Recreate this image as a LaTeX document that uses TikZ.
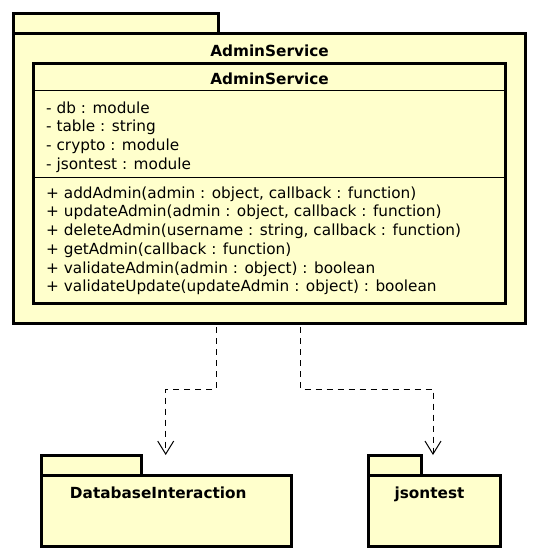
\documentclass[tikz,border=0pt]{standalone}
\usepackage{fontspec}
\setmainfont{DejaVu Sans}
\usetikzlibrary{arrows.meta}
\definecolor{pkgfill}{RGB}{255,255,204}
\begin{document}
\begin{tikzpicture}[x=1pt,y=-1pt,
  every node/.style={font=\fontsize{15.3}{18.75}\selectfont},
  box/.style={draw=black, line width=3pt, fill=pkgfill, rectangle, inner sep=0pt, outer sep=0pt, anchor=north west},
  titletext/.style={inner sep=0pt, anchor=base, font=\fontsize{15.3}{18.75}\selectfont\bfseries},
  linetext/.style={inner sep=0pt, anchor=base west},
  sepline/.style={draw=black, line width=0.9pt},
  dep/.style={draw=black, line width=1pt, dash pattern=on 6pt off 5pt, -{Straight Barb[length=13pt,width=16pt,line width=1pt]}}
]
\useasboundingbox (0,0) rectangle (540,558);

% AdminService package
\node[box, minimum width=205pt, minimum height=19.5pt] (admintab) at (13.5,13.5) {};
\node[box, minimum width=512pt, minimum height=290pt] (adminbody) at (13.5,33) {};
\node[titletext] (admintitle) at (269.5,56.5) {AdminService};

% AdminService class
\node[box, minimum width=472pt, minimum height=240.5pt] (cls) at (33.5,63) {};
\node[titletext] (clstitle) at (269.5,84.5) {AdminService};
\draw[sepline] (cls.west |- 0,90.7) -- (cls.east |- 0,90.7);
\draw[sepline] (cls.west |- 0,177.5) -- (cls.east |- 0,177.5);

\foreach \t [count=\i] in {{- db : module},{- table : string},{- crypto : module},{- jsontest : module}}
  \node[linetext] (a\i) at (46,113+18.75*\i-18.75) {\t};

\foreach \t [count=\i] in {{+ addAdmin(admin : object, callback : function)},
  {+ updateAdmin(admin : object, callback : function)},
  {+ deleteAdmin(username : string, callback : function)},
  {+ getAdmin(callback : function)},
  {+ validateAdmin(admin : object) : boolean},
  {+ validateUpdate(updateAdmin : object) : boolean}}
  \node[linetext] (m\i) at (46,198+18.75*\i-18.75) {\t};

% DatabaseInteraction package
\node[box, minimum width=100pt, minimum height=20pt] (dbtab) at (41,455) {};
\node[box, minimum width=250pt, minimum height=71pt] (dbbody) at (41,475) {};
\node[titletext] (dbtitle) at (158.3,498) {DatabaseInteraction};

% jsontest package
\node[box, minimum width=53pt, minimum height=20pt] (jstab) at (368,455) {};
\node[box, minimum width=132pt, minimum height=71pt] (jsbody) at (368,475) {};
\node[titletext] (jstitle) at (429.5,498) {jsontest};

% dependencies
\coordinate (k1) at (216,389);
\coordinate (k2) at (165.7,389);
\coordinate (k3) at (300.5,389);
\coordinate (k4) at (433,389);
\draw[dep, shorten <=4pt] (k1 |- adminbody.south) -- (k1) -- (k2) -- (k2 |- dbtab.north);
\draw[dep, shorten <=4pt] (k3 |- adminbody.south) -- (k3) -- (k4) -- (k4 |- jstab.north);
\end{tikzpicture}
\end{document}
